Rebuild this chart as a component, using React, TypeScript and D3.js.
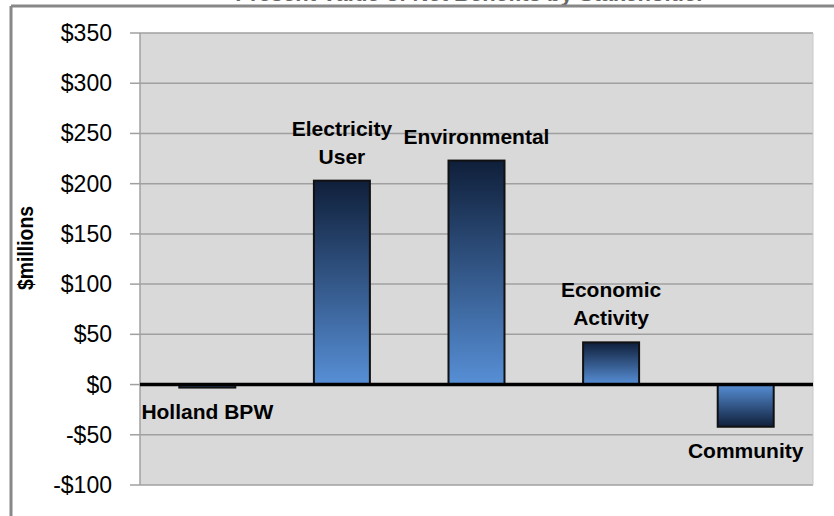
import React from "react";
import * as d3 from "d3";

const categories = ["Holland BPW", "Electricity User", "Environmental", "Economic Activity", "Community"];
const values = [-3, 203, 223, 42, -42];
const labelLines = [["Holland BPW"], ["Electricity", "User"], ["Environmental"], ["Economic", "Activity"], ["Community"]];
const yTicks = [-100, -50, 0, 50, 100, 150, 200, 250, 300, 350];
const title = "Present Value of Net Benefits by Stakeholder";

const W = 834;
const H = 516;
const plot = { left: 140, right: 813, top: 33, bottom: 485 };

export default function App() {
  const x = d3.scaleBand<string>().domain(categories).range([plot.left, plot.right]).paddingInner(0.584).paddingOuter(0.292);
  const y = d3.scaleLinear().domain([-100, 350]).range([plot.bottom, plot.top]);
  const fmt = (v: number) => (v < 0 ? "-$" + Math.abs(v) : "$" + v);
  const font = "'Liberation Sans', Arial, sans-serif";
  return (
    <svg width={W} height={H} style={{ position: "absolute", left: 0, top: 0 }}>
      <defs>
        <linearGradient id="gPos" x1="0" y1="0" x2="0" y2="1">
          <stop offset="0%" stopColor="#0f1f3a" />
          <stop offset="100%" stopColor="#578fd6" />
        </linearGradient>
        <linearGradient id="gNeg" x1="0" y1="0" x2="0" y2="1">
          <stop offset="0%" stopColor="#578fd6" />
          <stop offset="100%" stopColor="#0f1f3a" />
        </linearGradient>
      </defs>
      <rect x={0} y={0} width={W} height={H} fill="#ffffff" />
      <text x={470} y={1} textAnchor="middle" fontFamily={font} fontWeight="bold" fontSize={22} fill="#666">{title}</text>
      <line x1={11} y1={6} x2={W} y2={6} stroke="#888" strokeWidth={3} />
      <line x1={11} y1={6} x2={11} y2={H} stroke="#888" strokeWidth={3} />
      <rect x={plot.left} y={plot.top} width={plot.right - plot.left} height={plot.bottom - plot.top} fill="#d9d9d9" />
      {yTicks.map((t) => (
        <g key={t}>
          <line x1={plot.left} x2={plot.right} y1={y(t)} y2={y(t)} stroke="#a0a0a0" strokeWidth={1.5} />
          <line x1={plot.left - 10} x2={plot.left} y1={y(t)} y2={y(t)} stroke="#a0a0a0" strokeWidth={1.5} />
          <text x={112} y={y(t)} dy="0.35em" textAnchor="end" fontFamily={font} fontSize={23} fill="#000">{fmt(t)}</text>
        </g>
      ))}
      <line x1={plot.left} x2={plot.left} y1={plot.top} y2={plot.bottom} stroke="#a0a0a0" strokeWidth={1.5} />
      <line x1={plot.right} x2={plot.right} y1={plot.top} y2={plot.bottom} stroke="#c8c8c8" strokeWidth={1} />
      {categories.map((c, i) => {
        const v = values[i];
        const y0 = y(0);
        const yv = y(v);
        const top = Math.min(y0, yv);
        const h = Math.abs(yv - y0);
        return (
          <rect key={c} x={x(c)} y={top} width={x.bandwidth()} height={h} fill={v >= 0 ? "url(#gPos)" : "url(#gNeg)"} stroke="#111" strokeWidth={2} />
        );
      })}
      <line x1={plot.left} x2={plot.right} y1={y(0)} y2={y(0)} stroke="#000" strokeWidth={3.5} />
      {categories.map((c, i) => {
        const v = values[i];
        const cx = (x(c) as number) + x.bandwidth() / 2;
        const lines = labelLines[i];
        const lh = 28;
        const firstBase = v >= 0 ? y(v) - 17 - (lines.length - 1) * lh : y(v) + 31;
        return (
          <text key={c} textAnchor="middle" fontFamily={font} fontWeight="bold" fontSize={21} fill="#000">
            {lines.map((l, j) => (
              <tspan key={j} x={cx} y={firstBase + j * lh}>{l}</tspan>
            ))}
          </text>
        );
      })}
      <text transform={`translate(33,248) rotate(-90)`} textAnchor="middle" fontFamily={font} fontWeight="bold" fontSize={22} textLength={84} lengthAdjust="spacingAndGlyphs" fill="#000">$millions</text>
    </svg>
  );
}
